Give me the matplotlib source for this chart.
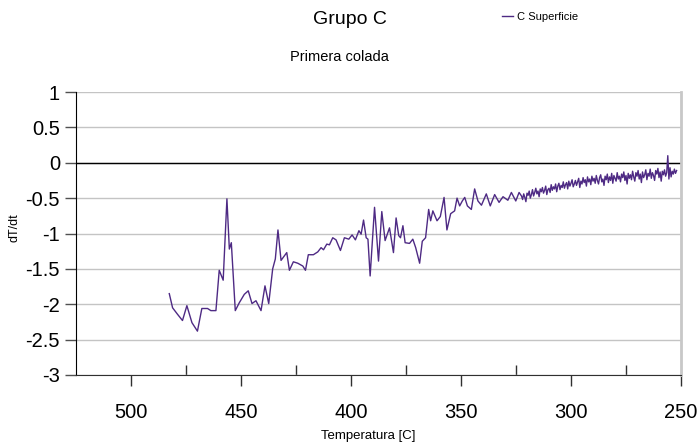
"""Grupo C - Primera colada: dT/dt vs temperatura (C Superficie)."""
import matplotlib

matplotlib.use("Agg")
import matplotlib.pyplot as plt  # noqa: E402

plt.rcParams["font.family"] = ["Liberation Sans", "DejaVu Sans"]

LINE_COLOR = "#4e2a84"

# sparse part of the curve (hot end)
temp_hot = [
    482.6, 481.1, 478.9, 476.6, 474.6, 472.3, 469.8, 467.8, 465.2, 463.7,
    461.4, 459.9, 458.1, 456.4, 455.3, 454.4, 452.6, 450.8, 448.5, 446.7,
    445.0, 443.2, 440.9, 439.1, 437.4, 435.6, 434.4, 433.2, 431.8, 429.2,
    428.0, 426.2, 424.2, 421.9, 420.7, 419.4, 417.1, 415.1, 413.6, 412.5,
    411.0, 409.8, 408.3, 406.8, 404.8, 403.0, 401.0, 399.5, 398.0, 396.4,
    395.4, 394.3, 393.1, 392.3, 391.3, 389.3, 387.5, 386.0, 384.5, 382.5,
    380.7, 379.5, 378.3, 377.5, 376.4, 375.4, 373.4, 371.9, 370.6, 368.8,
    367.6, 366.1, 364.7, 363.8, 362.8, 362.0, 360.9, 359.4, 357.7, 356.4,
    354.7, 352.9, 351.8, 350.6, 349.4, 348.3, 347.1, 345.3, 343.8, 342.3,
    340.7, 338.5, 336.7, 334.7, 332.7, 330.9, 328.7, 327.1, 325.1, 323.6,
]
dtdt_hot = [
    -1.85, -2.05, -2.14, -2.23, -2.02, -2.26, -2.38, -2.06, -2.06, -2.09,
    -2.09, -1.52, -1.66, -0.51, -1.22, -1.13, -2.09, -1.98, -1.86, -1.81,
    -1.99, -1.95, -2.09, -1.74, -1.99, -1.50, -1.36, -0.95, -1.38, -1.27,
    -1.52, -1.40, -1.42, -1.46, -1.52, -1.30, -1.30, -1.26, -1.20, -1.23,
    -1.15, -1.16, -1.06, -1.09, -1.24, -1.06, -1.08, -1.02, -1.09, -0.96,
    -1.01, -0.81, -1.06, -1.08, -1.60, -0.63, -1.39, -0.69, -1.10, -0.92,
    -1.27, -0.78, -1.03, -1.06, -0.89, -1.13, -1.14, -1.08, -1.20, -1.42,
    -1.11, -1.06, -0.66, -0.82, -0.68, -0.74, -0.82, -0.76, -0.49, -0.95,
    -0.72, -0.68, -0.50, -0.61, -0.54, -0.49, -0.61, -0.66, -0.37, -0.54,
    -0.60, -0.44, -0.61, -0.45, -0.56, -0.48, -0.53, -0.42, -0.54, -0.42,
]

# dense, noisy part (cold end)
temp_cold = [
    322.5, 322.0, 321.5, 321.0, 320.5, 320.0, 319.5, 319.0, 318.5, 318.0,
    317.5, 317.0, 316.5, 316.0, 315.5, 315.0, 314.5, 314.0, 313.5, 313.0,
    312.5, 312.0, 311.5, 311.0, 310.5, 310.0, 309.5, 309.0, 308.5, 308.0,
    307.5, 307.0, 306.5, 306.0, 305.5, 305.0, 304.5, 304.0, 303.5, 303.0,
    302.5, 302.0, 301.5, 301.0, 300.5, 300.0, 299.5, 299.0, 298.5, 298.0,
    297.5, 297.0, 296.5, 296.0, 295.5, 295.0, 294.5, 294.0, 293.5, 293.0,
    292.5, 292.0, 291.5, 291.0, 290.5, 290.0, 289.5, 289.0, 288.5, 288.0,
    287.5, 287.0, 286.5, 286.0, 285.5, 285.0, 284.5, 284.0, 283.5, 283.0,
    282.5, 282.0, 281.5, 281.0, 280.5, 280.0, 279.5, 279.0, 278.5, 278.0,
    277.5, 277.0, 276.5, 276.0, 275.5, 275.0, 274.5, 274.0, 273.5, 273.0,
    272.5, 272.0, 271.5, 271.0, 270.5, 270.0, 269.5, 269.0, 268.5, 268.0,
    267.5, 267.0, 266.5, 266.0, 265.5, 265.0, 264.5, 264.0, 263.5, 263.0,
    262.5, 262.0, 261.5, 261.0, 260.5, 260.0, 259.5, 259.0, 258.5, 258.0,
    257.5, 257.0, 256.5, 256.0, 255.5, 255.0, 254.5, 254.0, 253.5, 253.0,
    252.5, 252.0,
]
dtdt_cold = [
    -0.47, -0.52, -0.44, -0.49, -0.55, -0.43, -0.46, -0.40, -0.50, -0.45,
    -0.38, -0.47, -0.42, -0.36, -0.44, -0.40, -0.48, -0.37, -0.41, -0.35,
    -0.43, -0.39, -0.33, -0.45, -0.38, -0.36, -0.42, -0.31, -0.39, -0.34,
    -0.37, -0.30, -0.41, -0.33, -0.29, -0.38, -0.32, -0.35, -0.27, -0.36,
    -0.31, -0.28, -0.37, -0.26, -0.33, -0.29, -0.24, -0.34, -0.30, -0.25,
    -0.32, -0.27, -0.22, -0.35, -0.26, -0.30, -0.21, -0.28, -0.24, -0.33,
    -0.20, -0.27, -0.23, -0.31, -0.19, -0.26, -0.22, -0.29, -0.18, -0.25,
    -0.30, -0.21, -0.17, -0.27, -0.23, -0.32, -0.19, -0.24, -0.16, -0.28,
    -0.20, -0.25, -0.15, -0.29, -0.18, -0.22, -0.26, -0.14, -0.23, -0.19,
    -0.27, -0.16, -0.21, -0.13, -0.25, -0.18, -0.30, -0.15, -0.22, -0.17,
    -0.24, -0.12, -0.20, -0.26, -0.14, -0.19, -0.11, -0.23, -0.16, -0.28,
    -0.13, -0.21, -0.17, -0.10, -0.24, -0.15, -0.19, -0.09, -0.22, -0.14,
    -0.18, -0.25, -0.11, -0.16, -0.08, -0.21, -0.13, -0.26, -0.12, -0.17,
    -0.10, -0.19, -0.14, 0.10, -0.23, -0.07, -0.20, -0.12, -0.16, -0.09,
    -0.15, -0.11,
]

x_major = [500, 450, 400, 350, 300, 250]
x_minor = [475, 425, 375, 325, 275]
y_ticks = [-3, -2.5, -2, -1.5, -1, -0.5, 0, 0.5, 1]
y_labels = ["-3", "-2.5", "-2", "-1.5", "-1", "-0.5", "0", "0.5", "1"]

W, H = 700, 442
fig = plt.figure(figsize=(W / 100, H / 100), dpi=100)
ax = fig.add_axes([76 / W, 1 - 375 / H, (681 - 76) / W, (375 - 92) / H])

ax.plot(temp_hot + temp_cold, dtdt_hot + dtdt_cold, color=LINE_COLOR,
        lw=1.0, label="C Superficie", zorder=3)

ax.set_xlim(525, 250)
ax.set_ylim(-3, 1)
ax.set_yticks(y_ticks)
ax.set_yticklabels(y_labels)
ax.yaxis.grid(True, color="#c4c4c4", lw=1.0)
ax.set_axisbelow(True)
ax.axhline(0, color="black", lw=1.0, zorder=2)

ax.set_xticks(x_major)
ax.set_xticklabels([str(v) for v in x_major])
ax.set_xticks(x_minor, minor=True)
ax.tick_params(axis="x", which="major", direction="out", length=8, width=1,
               pad=12, labelsize=14.5, color="#303030")
ax.tick_params(axis="x", which="minor", direction="in", length=7, width=1,
               color="#303030")
ax.tick_params(axis="y", direction="out", length=8, width=1, pad=3.5,
               labelsize=14.5, color="#505050")

ax.spines["top"].set_visible(False)
ax.spines["right"].set_color("#c8c8c8")
ax.spines["right"].set_linewidth(2)
ax.spines["left"].set_color("black")
ax.spines["bottom"].set_color("#303030")

fig.text(350 / W, 1 - 20 / H, "Grupo C", ha="center", va="center", fontsize=14)
fig.text(339 / W, 1 - 57 / H, "Primera colada", ha="center", va="center",
         fontsize=10.5)
fig.text(368 / W, 1 - 436 / H, "Temperatura [C]", ha="center", va="center",
         fontsize=9.5)
fig.text(15 / W, 1 - 228 / H, "dT/dt", ha="center", va="center",
         rotation=90, fontsize=9)

fig.legend(loc="center left", bbox_to_anchor=(502 / W, 1 - 17 / H),
           frameon=False, fontsize=8, handlelength=1.0, handletextpad=0.35,
           borderpad=0, borderaxespad=0)

fig.savefig("out.png", dpi=100)
plt.close(fig)
